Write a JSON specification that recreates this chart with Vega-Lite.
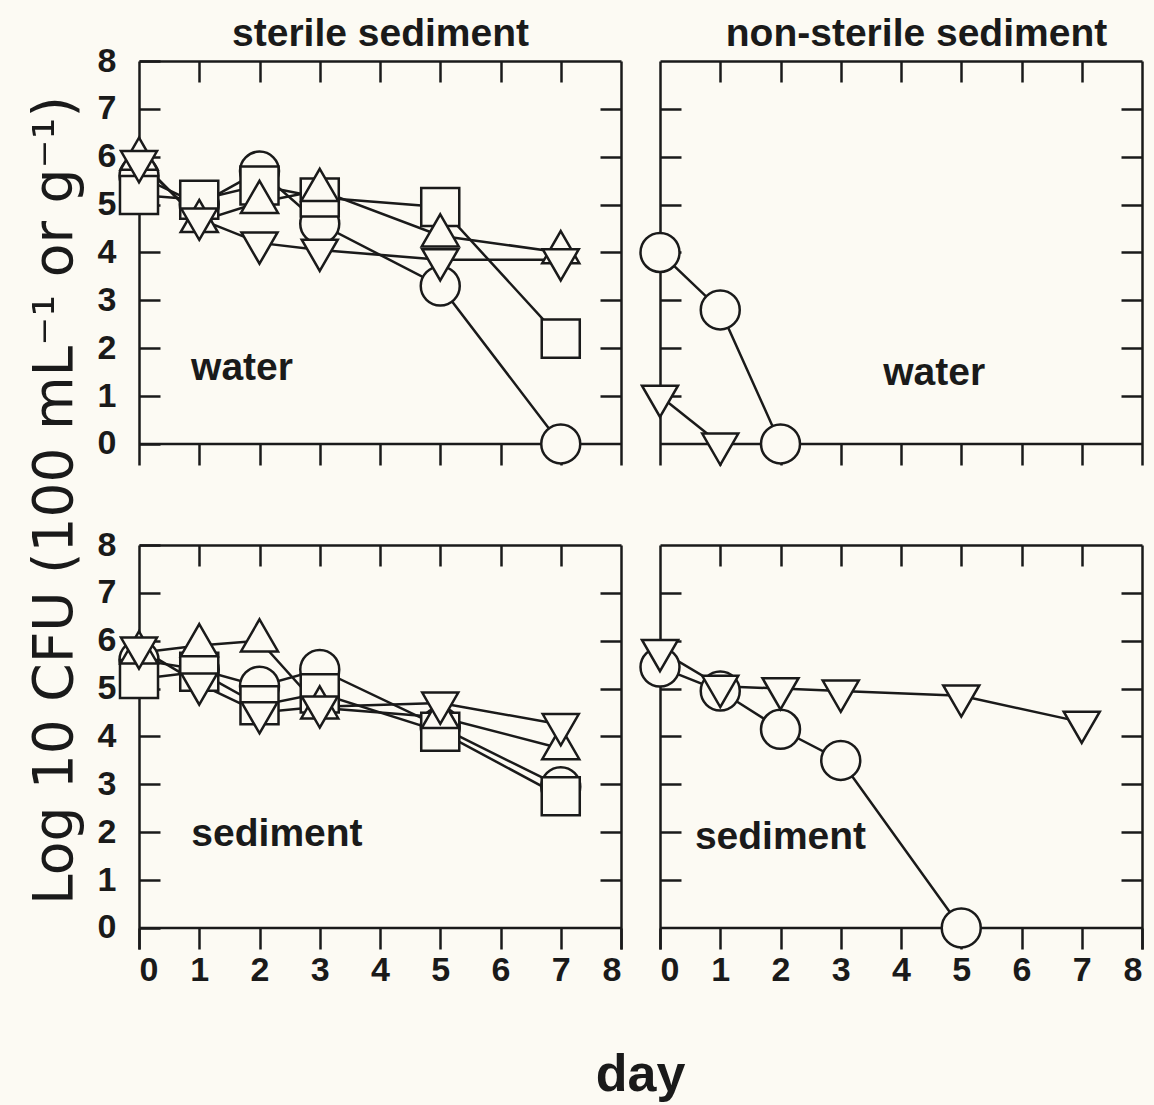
{
  "$schema": "https://vega.github.io/schema/vega-lite/v6.json",
  "background": "#fcfaf3",
  "padding": {"left": 26, "top": 14, "right": 14, "bottom": 8},
  "datasets": {
    "obs": [
      {"panel": "TL", "series": "circle", "day": 0, "logcfu": 5.6},
      {"panel": "TL", "series": "circle", "day": 1, "logcfu": 5.0},
      {"panel": "TL", "series": "circle", "day": 2, "logcfu": 5.7},
      {"panel": "TL", "series": "circle", "day": 3, "logcfu": 4.6},
      {"panel": "TL", "series": "circle", "day": 5, "logcfu": 3.3},
      {"panel": "TL", "series": "circle", "day": 7, "logcfu": 0},
      {"panel": "TL", "series": "square", "day": 0, "logcfu": 5.2},
      {"panel": "TL", "series": "square", "day": 1, "logcfu": 5.1},
      {"panel": "TL", "series": "square", "day": 2, "logcfu": 5.4},
      {"panel": "TL", "series": "square", "day": 3, "logcfu": 5.15},
      {"panel": "TL", "series": "square", "day": 5, "logcfu": 4.95},
      {"panel": "TL", "series": "square", "day": 7, "logcfu": 2.2},
      {"panel": "TL", "series": "up", "day": 0, "logcfu": 5.95},
      {"panel": "TL", "series": "up", "day": 1, "logcfu": 4.65},
      {"panel": "TL", "series": "up", "day": 2, "logcfu": 5.05},
      {"panel": "TL", "series": "up", "day": 3, "logcfu": 5.3},
      {"panel": "TL", "series": "up", "day": 5, "logcfu": 4.35},
      {"panel": "TL", "series": "up", "day": 7, "logcfu": 4.0},
      {"panel": "TL", "series": "down", "day": 0, "logcfu": 5.9},
      {"panel": "TL", "series": "down", "day": 1, "logcfu": 4.7},
      {"panel": "TL", "series": "down", "day": 2, "logcfu": 4.2},
      {"panel": "TL", "series": "down", "day": 3, "logcfu": 4.05},
      {"panel": "TL", "series": "down", "day": 5, "logcfu": 3.85},
      {"panel": "TL", "series": "down", "day": 7, "logcfu": 3.85},
      {"panel": "TR", "series": "circle", "day": 0, "logcfu": 4.0},
      {"panel": "TR", "series": "circle", "day": 1, "logcfu": 2.8},
      {"panel": "TR", "series": "circle", "day": 2, "logcfu": 0},
      {"panel": "TR", "series": "down", "day": 0, "logcfu": 1.0},
      {"panel": "TR", "series": "down", "day": 1, "logcfu": 0},
      {"panel": "BL", "series": "circle", "day": 0, "logcfu": 5.6},
      {"panel": "BL", "series": "circle", "day": 1, "logcfu": 5.4},
      {"panel": "BL", "series": "circle", "day": 2, "logcfu": 5.05},
      {"panel": "BL", "series": "circle", "day": 3, "logcfu": 5.4},
      {"panel": "BL", "series": "circle", "day": 5, "logcfu": 4.2},
      {"panel": "BL", "series": "circle", "day": 7, "logcfu": 2.95},
      {"panel": "BL", "series": "square", "day": 0, "logcfu": 5.2},
      {"panel": "BL", "series": "square", "day": 1, "logcfu": 5.35},
      {"panel": "BL", "series": "square", "day": 2, "logcfu": 4.65},
      {"panel": "BL", "series": "square", "day": 3, "logcfu": 4.9},
      {"panel": "BL", "series": "square", "day": 5, "logcfu": 4.1},
      {"panel": "BL", "series": "square", "day": 7, "logcfu": 2.75},
      {"panel": "BL", "series": "up", "day": 0, "logcfu": 5.75},
      {"panel": "BL", "series": "up", "day": 1, "logcfu": 5.9},
      {"panel": "BL", "series": "up", "day": 2, "logcfu": 6.0},
      {"panel": "BL", "series": "up", "day": 3, "logcfu": 4.6},
      {"panel": "BL", "series": "up", "day": 5, "logcfu": 4.4},
      {"panel": "BL", "series": "up", "day": 7, "logcfu": 3.75},
      {"panel": "BL", "series": "down", "day": 0, "logcfu": 5.85},
      {"panel": "BL", "series": "down", "day": 1, "logcfu": 5.1},
      {"panel": "BL", "series": "down", "day": 2, "logcfu": 4.5},
      {"panel": "BL", "series": "down", "day": 3, "logcfu": 4.62},
      {"panel": "BL", "series": "down", "day": 5, "logcfu": 4.7},
      {"panel": "BL", "series": "down", "day": 7, "logcfu": 4.25},
      {"panel": "BR", "series": "circle", "day": 0, "logcfu": 5.45},
      {"panel": "BR", "series": "circle", "day": 1, "logcfu": 4.95},
      {"panel": "BR", "series": "circle", "day": 2, "logcfu": 4.15},
      {"panel": "BR", "series": "circle", "day": 3, "logcfu": 3.5},
      {"panel": "BR", "series": "circle", "day": 5, "logcfu": 0},
      {"panel": "BR", "series": "down", "day": 0, "logcfu": 5.8},
      {"panel": "BR", "series": "down", "day": 1, "logcfu": 5.05},
      {"panel": "BR", "series": "down", "day": 2, "logcfu": 5.0},
      {"panel": "BR", "series": "down", "day": 3, "logcfu": 4.95},
      {"panel": "BR", "series": "down", "day": 5, "logcfu": 4.85},
      {"panel": "BR", "series": "down", "day": 7, "logcfu": 4.3}
    ],
    "notes": [
      {"panel": "TL", "label": "water", "day": 1.71, "logcfu": 1.34},
      {"panel": "TR", "label": "water", "day": 4.55, "logcfu": 1.23},
      {"panel": "BL", "label": "sediment", "day": 2.29, "logcfu": 1.72},
      {"panel": "BR", "label": "sediment", "day": 2.0, "logcfu": 1.65}
    ]
  },
  "columns": 2,
  "spacing": {"row": 80, "column": 39},
  "bounds": "flush",
  "concat": [
    {
      "width": 482, "height": 404,
      "resolve": {"axis": {"x": "independent", "y": "independent"}},
      "layer": [
        {"data": {"values": [{}]}, "mark": {"type": "rule", "color": "#1a1a1a", "strokeWidth": 2.5},
         "encoding": {"y": {"datum": 0, "type": "quantitative", "scale": {"domain": [-0.44, 8], "nice": false, "zero": false}, "axis": null}}},
        {"data": {"name": "obs"}, "transform": [{"filter": "datum.panel === 'TL'"}],
         "mark": {"type": "line", "color": "#1a1a1a", "strokeWidth": 2.5},
         "encoding": {
           "x": {"field": "day", "type": "quantitative", "scale": {"domain": [0, 8], "nice": false, "zero": false},
                 "axis": {"orient": "bottom", "values": [1, 2, 3, 4, 5, 6, 7], "tickSize": -21, "domain": false, "labels": false, "title": null}},
           "y": {"field": "logcfu", "type": "quantitative", "scale": {"domain": [-0.44, 8], "nice": false, "zero": false},
                 "axis": {"orient": "left", "values": [0, 1, 2, 3, 4, 5, 6, 7, 8], "tickSize": -21, "labelPadding": 44,
                          "title": "Log 10 CFU  (100 mL⁻¹ or g⁻¹)", "titleFont": "DejaVu Sans", "titleFontWeight": "normal", "titleFontSize": 55, "titleX": -68, "titleY": 439,
                          "titleAlign": "center", "titleBaseline": "alphabetic", "titleAngle": -90}},
           "detail": {"field": "series"}}},
        {"data": {"name": "obs"}, "transform": [{"filter": "datum.panel === 'TL'"}],
         "mark": {"type": "point", "filled": true, "fill": "#fcfaf3", "stroke": "#1a1a1a", "strokeWidth": 2.5, "opacity": 1},
         "encoding": {
           "x": {"field": "day", "type": "quantitative",
                 "axis": {"orient": "top", "values": [1, 2, 3, 4, 5, 6, 7], "tickSize": -21, "labels": false,
                          "title": "sterile sediment", "titleFontSize": 39, "titleX": 241, "titleY": -16, "titleAlign": "center", "titleBaseline": "alphabetic", "titleAngle": 0}},
           "y": {"field": "logcfu", "type": "quantitative", "axis": {"orient": "right", "values": [1, 2, 3, 4, 5, 6, 7], "tickSize": -21, "labels": false, "title": null}},
           "shape": {"field": "series", "type": "nominal", "legend": null,
                     "scale": {"domain": ["circle", "square", "up", "down"], "range": ["circle", "square", "M0,-1.155L1,0.577L-1,0.577Z", "M0,1.155L1,-0.577L-1,-0.577Z"]}},
           "size": {"field": "series", "type": "nominal", "legend": null,
                    "scale": {"domain": ["circle", "square", "up", "down"], "range": [1520, 1300, 1764, 1764]}}}},
        {"data": {"name": "notes"}, "transform": [{"filter": "datum.panel === 'TL'"}],
         "mark": {"type": "text", "font": "Liberation Sans", "fontSize": 39, "fontWeight": "bold", "baseline": "alphabetic", "align": "center", "color": "#1a1a1a"},
         "encoding": {"x": {"field": "day", "type": "quantitative", "axis": null}, "y": {"field": "logcfu", "type": "quantitative", "axis": null}, "text": {"field": "label"}}}
      ]
    },
    {
      "width": 482, "height": 404,
      "resolve": {"axis": {"x": "independent", "y": "independent"}},
      "layer": [
        {"data": {"values": [{}]}, "mark": {"type": "rule", "color": "#1a1a1a", "strokeWidth": 2.5},
         "encoding": {"y": {"datum": 0, "type": "quantitative", "scale": {"domain": [-0.44, 8], "nice": false, "zero": false}, "axis": null}}},
        {"data": {"name": "obs"}, "transform": [{"filter": "datum.panel === 'TR'"}],
         "mark": {"type": "line", "color": "#1a1a1a", "strokeWidth": 2.5},
         "encoding": {
           "x": {"field": "day", "type": "quantitative", "scale": {"domain": [0, 8], "nice": false, "zero": false},
                 "axis": {"orient": "bottom", "values": [1, 2, 3, 4, 5, 6, 7], "tickSize": -21, "domain": false, "labels": false, "title": null}},
           "y": {"field": "logcfu", "type": "quantitative", "scale": {"domain": [-0.44, 8], "nice": false, "zero": false},
                 "axis": {"orient": "left", "values": [1, 2, 3, 4, 5, 6, 7], "tickSize": -21, "labels": false, "title": null}},
           "detail": {"field": "series"}}},
        {"data": {"name": "obs"}, "transform": [{"filter": "datum.panel === 'TR'"}],
         "mark": {"type": "point", "filled": true, "fill": "#fcfaf3", "stroke": "#1a1a1a", "strokeWidth": 2.5, "opacity": 1},
         "encoding": {
           "x": {"field": "day", "type": "quantitative",
                 "axis": {"orient": "top", "values": [1, 2, 3, 4, 5, 6, 7], "tickSize": -21, "labels": false,
                          "title": "non-sterile sediment", "titleFontSize": 39, "titleX": 256, "titleY": -16, "titleAlign": "center", "titleBaseline": "alphabetic", "titleAngle": 0}},
           "y": {"field": "logcfu", "type": "quantitative", "axis": {"orient": "right", "values": [1, 2, 3, 4, 5, 6, 7], "tickSize": -21, "labels": false, "title": null}},
           "shape": {"field": "series", "type": "nominal", "legend": null,
                     "scale": {"domain": ["circle", "square", "up", "down"], "range": ["circle", "square", "M0,-1.155L1,0.577L-1,0.577Z", "M0,1.155L1,-0.577L-1,-0.577Z"]}},
           "size": {"field": "series", "type": "nominal", "legend": null,
                    "scale": {"domain": ["circle", "square", "up", "down"], "range": [1520, 1300, 1764, 1764]}}}},
        {"data": {"name": "notes"}, "transform": [{"filter": "datum.panel === 'TR'"}],
         "mark": {"type": "text", "font": "Liberation Sans", "fontSize": 39, "fontWeight": "bold", "baseline": "alphabetic", "align": "center", "color": "#1a1a1a"},
         "encoding": {"x": {"field": "day", "type": "quantitative", "axis": null}, "y": {"field": "logcfu", "type": "quantitative", "axis": null}, "text": {"field": "label"}}}
      ]
    },
    {
      "width": 482, "height": 404,
      "resolve": {"axis": {"x": "independent", "y": "independent"}},
      "layer": [
        {"data": {"values": [{}]}, "mark": {"type": "rule", "color": "#1a1a1a", "strokeWidth": 2.5},
         "encoding": {"y": {"datum": 0, "type": "quantitative", "scale": {"domain": [-0.44, 8], "nice": false, "zero": false}, "axis": null}}},
        {"data": {"name": "obs"}, "transform": [{"filter": "datum.panel === 'BL'"}],
         "mark": {"type": "line", "color": "#1a1a1a", "strokeWidth": 2.5},
         "encoding": {
           "x": {"field": "day", "type": "quantitative", "scale": {"domain": [0, 8], "nice": false, "zero": false},
                 "axis": {"orient": "bottom", "values": [0, 1, 2, 3, 4, 5, 6, 7, 8], "tickSize": -21, "domain": false, "labelPadding": 25,
                          "title": "day", "titleFontSize": 52, "titleX": 501, "titleY": 141, "titleAlign": "center", "titleBaseline": "alphabetic"}},
           "y": {"field": "logcfu", "type": "quantitative", "scale": {"domain": [-0.44, 8], "nice": false, "zero": false},
                 "axis": {"orient": "left", "values": [0, 1, 2, 3, 4, 5, 6, 7, 8], "tickSize": -21, "labelPadding": 44, "title": null}},
           "detail": {"field": "series"}}},
        {"data": {"name": "obs"}, "transform": [{"filter": "datum.panel === 'BL'"}],
         "mark": {"type": "point", "filled": true, "fill": "#fcfaf3", "stroke": "#1a1a1a", "strokeWidth": 2.5, "opacity": 1},
         "encoding": {
           "x": {"field": "day", "type": "quantitative", "axis": {"orient": "top", "values": [1, 2, 3, 4, 5, 6, 7], "tickSize": -21, "labels": false, "title": null}},
           "y": {"field": "logcfu", "type": "quantitative", "axis": {"orient": "right", "values": [1, 2, 3, 4, 5, 6, 7], "tickSize": -21, "labels": false, "title": null}},
           "shape": {"field": "series", "type": "nominal", "legend": null,
                     "scale": {"domain": ["circle", "square", "up", "down"], "range": ["circle", "square", "M0,-1.155L1,0.577L-1,0.577Z", "M0,1.155L1,-0.577L-1,-0.577Z"]}},
           "size": {"field": "series", "type": "nominal", "legend": null,
                    "scale": {"domain": ["circle", "square", "up", "down"], "range": [1520, 1300, 1764, 1764]}}}},
        {"data": {"name": "notes"}, "transform": [{"filter": "datum.panel === 'BL'"}],
         "mark": {"type": "text", "font": "Liberation Sans", "fontSize": 39, "fontWeight": "bold", "baseline": "alphabetic", "align": "center", "color": "#1a1a1a"},
         "encoding": {"x": {"field": "day", "type": "quantitative", "axis": null}, "y": {"field": "logcfu", "type": "quantitative", "axis": null}, "text": {"field": "label"}}}
      ]
    },
    {
      "width": 482, "height": 404,
      "resolve": {"axis": {"x": "independent", "y": "independent"}},
      "layer": [
        {"data": {"values": [{}]}, "mark": {"type": "rule", "color": "#1a1a1a", "strokeWidth": 2.5},
         "encoding": {"y": {"datum": 0, "type": "quantitative", "scale": {"domain": [-0.44, 8], "nice": false, "zero": false}, "axis": null}}},
        {"data": {"name": "obs"}, "transform": [{"filter": "datum.panel === 'BR'"}],
         "mark": {"type": "line", "color": "#1a1a1a", "strokeWidth": 2.5},
         "encoding": {
           "x": {"field": "day", "type": "quantitative", "scale": {"domain": [0, 8], "nice": false, "zero": false},
                 "axis": {"orient": "bottom", "values": [0, 1, 2, 3, 4, 5, 6, 7, 8], "tickSize": -21, "domain": false, "labelPadding": 25, "title": null}},
           "y": {"field": "logcfu", "type": "quantitative", "scale": {"domain": [-0.44, 8], "nice": false, "zero": false},
                 "axis": {"orient": "left", "values": [1, 2, 3, 4, 5, 6, 7], "tickSize": -21, "labels": false, "title": null}},
           "detail": {"field": "series"}}},
        {"data": {"name": "obs"}, "transform": [{"filter": "datum.panel === 'BR'"}],
         "mark": {"type": "point", "filled": true, "fill": "#fcfaf3", "stroke": "#1a1a1a", "strokeWidth": 2.5, "opacity": 1},
         "encoding": {
           "x": {"field": "day", "type": "quantitative", "axis": {"orient": "top", "values": [1, 2, 3, 4, 5, 6, 7], "tickSize": -21, "labels": false, "title": null}},
           "y": {"field": "logcfu", "type": "quantitative", "axis": {"orient": "right", "values": [1, 2, 3, 4, 5, 6, 7], "tickSize": -21, "labels": false, "title": null}},
           "shape": {"field": "series", "type": "nominal", "legend": null,
                     "scale": {"domain": ["circle", "square", "up", "down"], "range": ["circle", "square", "M0,-1.155L1,0.577L-1,0.577Z", "M0,1.155L1,-0.577L-1,-0.577Z"]}},
           "size": {"field": "series", "type": "nominal", "legend": null,
                    "scale": {"domain": ["circle", "square", "up", "down"], "range": [1520, 1300, 1764, 1764]}}}},
        {"data": {"name": "notes"}, "transform": [{"filter": "datum.panel === 'BR'"}],
         "mark": {"type": "text", "font": "Liberation Sans", "fontSize": 39, "fontWeight": "bold", "baseline": "alphabetic", "align": "center", "color": "#1a1a1a"},
         "encoding": {"x": {"field": "day", "type": "quantitative", "axis": null}, "y": {"field": "logcfu", "type": "quantitative", "axis": null}, "text": {"field": "label"}}}
      ]
    }
  ],
  "config": {
    "view": {"stroke": null},
    "axis": {"grid": false, "domainColor": "#1a1a1a", "tickColor": "#1a1a1a", "domainWidth": 2.5, "tickWidth": 2.5,
             "labelFont": "Liberation Sans", "labelFontSize": 34, "labelFontWeight": "bold", "labelColor": "#1a1a1a",
             "titleFont": "Liberation Sans", "titleFontWeight": "bold", "titleColor": "#1a1a1a"}
  }
}
